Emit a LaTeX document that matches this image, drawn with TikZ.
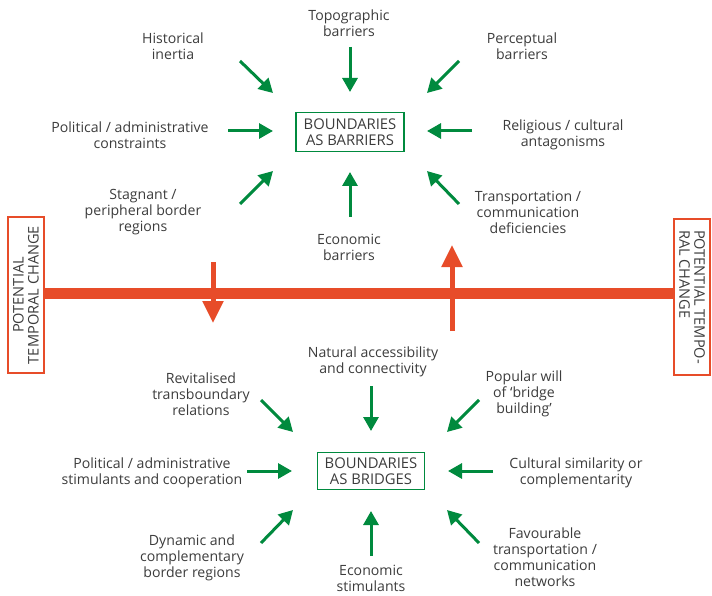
\documentclass[tikz,border=0pt]{standalone}
\usepackage{fontspec}
\setmainfont{Open Sans}
\usetikzlibrary{arrows.meta}
\definecolor{ggreen}{RGB}{0,138,62}
\definecolor{rred}{RGB}{231,76,41}
\definecolor{tgrey}{RGB}{60,60,60}
\begin{document}
\begin{tikzpicture}[x=1pt,y=-1pt,
  lbl/.style={align=center,text=tgrey,font=\fontsize{14.1}{16}\selectfont,inner sep=0pt},
  gbox/.style={draw=ggreen,line width=1.3pt,align=center,text=tgrey,font=\fontsize{14.8}{16.5}\selectfont,inner sep=0pt},
  rbox/.style={draw=rred,line width=2pt,text=tgrey,font=\fontsize{14.6}{15}\selectfont,inner sep=0pt,minimum width=156pt,minimum height=36pt},
  garrow/.style={draw=ggreen,line width=3pt,-{Triangle[length=14pt,width=15pt]}},
  rarrow/.style={draw=rred,line width=5pt,-{Triangle[length=22pt,width=20pt]}}]
\useasboundingbox (0,0) rectangle (712,596);
% central boxes
\node[gbox,minimum width=108pt,minimum height=39pt] (bar) at (350,132) {BOUNDARIES\\AS BARRIERS};
\node[gbox,minimum width=107pt,minimum height=37pt] (bri) at (371,471) {BOUNDARIES\\AS BRIDGES};
% side boxes
\node[rbox,rotate=90,align=center] (lbox) at (26,295) {POTENTIAL\\TEMPORAL CHANGE};
\node[rbox,rotate=-90,align=left] (rbox) at (692,297) {POTENTIAL TEMPO-\\RAL CHANGE};
\draw[rred,line width=11pt] (lbox.south |- 0,293) -- (rbox.south |- 0,293);
% red arrows
\coordinate (d1) at (213,262); \coordinate (d2) at (213,323);
\coordinate (u1) at (452,331); \coordinate (u2) at (452,245);
\draw[rarrow] (d1) -- (d2);
\draw[rarrow] (u1) -- (u2);
% labels top
\node[lbl] (topo) at (349,23) {Topographic\\barriers};
\node[lbl] (hist) at (173,46) {Historical\\inertia};
\node[lbl] (perc) at (522,46) {Perceptual\\barriers};
\node[lbl] (polc) at (130,135) {Political / administrative\\constraints};
\node[lbl] (relig) at (563,135) {Religious / cultural\\antagonisms};
\node[lbl] (stag) at (143,212) {Stagnant /\\peripheral border\\regions};
\node[lbl] (econb) at (349,247) {Economic\\barriers};
\node[lbl] (trans) at (528,212) {Transportation /\\communication\\deficiencies};
% labels bottom
\node[lbl] (nat) at (373,362) {Natural accessibility\\and connectivity};
\node[lbl] (revit) at (201,394) {Revitalised\\transboundary\\relations};
\node[lbl] (pop) at (524,394) {Popular will\\of `bridge\\building'};
\node[lbl] (polst) at (152,473) {Political / administrative\\stimulants and cooperation};
\node[lbl] (cult) at (576,473) {Cultural similarity or\\complementarity};
\node[lbl] (dyn) at (192,558) {Dynamic and\\complementary\\border regions};
\node[lbl] (econs) at (371,578) {Economic\\stimulants};
\node[lbl] (fav) at (545,557) {Favourable\\transportation /\\communication\\networks};
% green arrows top
\coordinate (a1s) at (350,47); \coordinate (a1e) at (350,92);
\coordinate (a2s) at (240,61); \coordinate (a2e) at (273,93);
\coordinate (a3s) at (459,61); \coordinate (a3e) at (427,93);
\coordinate (a4s) at (228,131); \coordinate (a4e) at (273,131);
\coordinate (a5s) at (472,131); \coordinate (a5e) at (427,131);
\coordinate (a6s) at (240,204); \coordinate (a6e) at (273,171);
\coordinate (a7s) at (350,217); \coordinate (a7e) at (350,172);
\coordinate (a8s) at (459,204); \coordinate (a8e) at (427,171);
\foreach \i in {1,...,8} {\draw[garrow] (a\i s) -- (a\i e);}
% green arrows bottom
\coordinate (b1s) at (371,386); \coordinate (b1e) at (371,431);
\coordinate (b2s) at (261,400); \coordinate (b2e) at (293,432);
\coordinate (b3s) at (479,400); \coordinate (b3e) at (447,432);
\coordinate (b4s) at (247,471); \coordinate (b4e) at (292,471);
\coordinate (b5s) at (493,471); \coordinate (b5e) at (448,471);
\coordinate (b6s) at (261,543); \coordinate (b6e) at (293,510);
\coordinate (b7s) at (371,556); \coordinate (b7e) at (371,511);
\coordinate (b8s) at (479,543); \coordinate (b8e) at (447,510);
\foreach \i in {1,...,8} {\draw[garrow] (b\i s) -- (b\i e);}
\end{tikzpicture}
\end{document}
